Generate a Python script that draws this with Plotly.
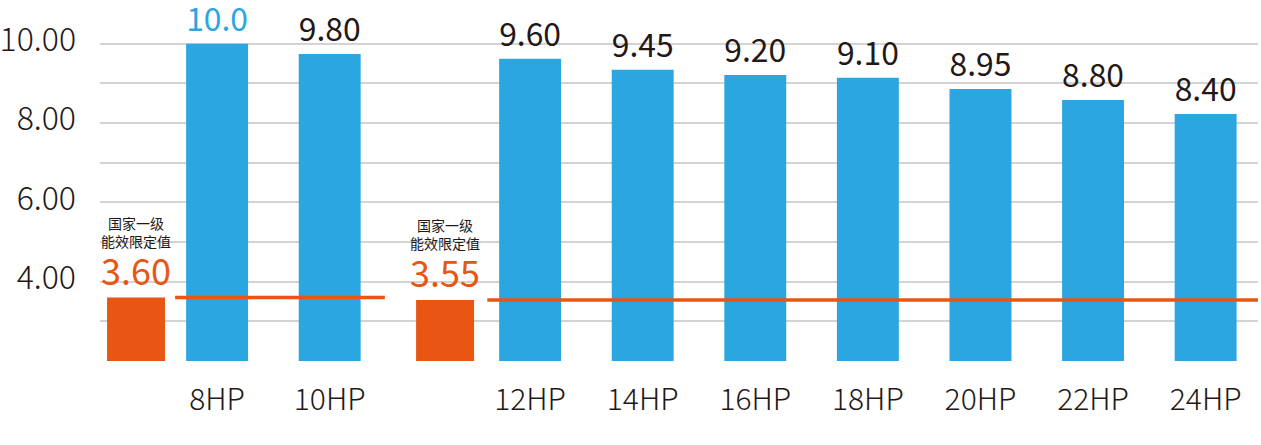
import plotly.graph_objects as go

# ---- data ----
categories = ["8HP", "10HP", "12HP", "14HP", "16HP", "18HP", "20HP", "22HP", "24HP"]
bar_values = [10.0, 9.74, 9.62, 9.34, 9.21, 9.14, 8.86, 8.58, 8.23]
bar_labels = ["10.0", "9.80", "9.60", "9.45", "9.20", "9.10", "8.95", "8.80", "8.40"]
group_of_bar = [0, 0, 1, 1, 1, 1, 1, 1, 1]

std_values = [3.60, 3.54]
std_labels = ["3.60", "3.55"]
std_caption = "国家一级<br>能效限定值"

y_tick_vals = [2, 3, 4, 5, 6, 7, 8, 9, 10]
y_tick_text = ["", "", "4.00", "", "6.00", "", "8.00", "", "10.00"]

# ---- layout helpers ----
BLUE = "#2ca6e0"
ORANGE = "#e95513"
TEXT = "#231815"
FONT = "Noto Sans CJK SC"
GROUP_GAP = 0.78

hp_x = [i + GROUP_GAP * g for i, g in enumerate(group_of_bar)]
first_in_group = [hp_x[group_of_bar.index(g)] for g in range(2)]
last_in_group = [hp_x[len(group_of_bar) - 1 - group_of_bar[::-1].index(g)] for g in range(2)]
std_x = [first_in_group[0] - 0.72, first_in_group[1] - 0.755]
x_range = [-1.04, 9.245]
BASE = 2

fig = go.Figure()

fig.add_trace(go.Bar(
    x=hp_x, y=[v - BASE for v in bar_values], base=BASE, width=0.55,
    marker=dict(color=BLUE, line=dict(width=0)),
    text=bar_labels, textposition="outside", cliponaxis=False,
    textfont=dict(family=FONT, size=33,
                  color=[BLUE if i == 0 else TEXT for i in range(len(bar_labels))]),
    hoverinfo="skip",
))

fig.add_trace(go.Bar(
    x=std_x, y=[v - BASE for v in std_values], base=BASE, width=0.515,
    marker=dict(color=ORANGE, line=dict(width=0)),
    hoverinfo="skip",
))

line_starts = [first_in_group[0] - 0.373, first_in_group[1] - 0.38]
line_ends = [last_in_group[0] + 0.49, x_range[1]]
for g in range(2):
    fig.add_trace(go.Scatter(
        x=[line_starts[g], line_ends[g]], y=[std_values[g], std_values[g]],
        mode="lines", line=dict(color=ORANGE, width=3.5),
        hoverinfo="skip", cliponaxis=False,
    ))
    fig.add_annotation(
        x=std_x[g], y=std_values[g], text=std_labels[g], showarrow=False,
        yanchor="bottom", yshift=1,
        font=dict(family=FONT, size=36, color=ORANGE),
    )
    fig.add_annotation(
        x=std_x[g], y=std_values[g], text=std_caption, showarrow=False,
        yanchor="bottom", yshift=45,
        font=dict(family=FONT, size=14, color=TEXT),
    )

fig.update_layout(
    width=1261, height=445,
    margin=dict(l=100, r=3, t=4, b=84),
    plot_bgcolor="white", paper_bgcolor="white",
    showlegend=False, barmode="overlay",
    font=dict(family=FONT, color=TEXT),
)
fig.update_xaxes(
    range=x_range, tickmode="array", tickvals=hp_x, ticktext=categories,
    showgrid=False, zeroline=False, showline=False, ticks="",
    tickfont=dict(family=FONT, size=30, color=TEXT, weight=300),
    ticklabelstandoff=18, automargin=False,
)
fig.update_yaxes(
    range=[2, 11], tickmode="array", tickvals=y_tick_vals, ticktext=y_tick_text,
    showgrid=True, gridcolor="#d3d3d3", gridwidth=1.5, zeroline=False,
    showline=False, ticks="",
    tickfont=dict(family=FONT, size=32, color=TEXT, weight=300),
    ticklabelstandoff=23, ticklabelshift=-4, automargin=False,
)

fig.write_html(
    "out.html",
    config={"displayModeBar": False},
    post_script="document.body.style.margin='0';document.body.style.overflow='hidden';",
)
